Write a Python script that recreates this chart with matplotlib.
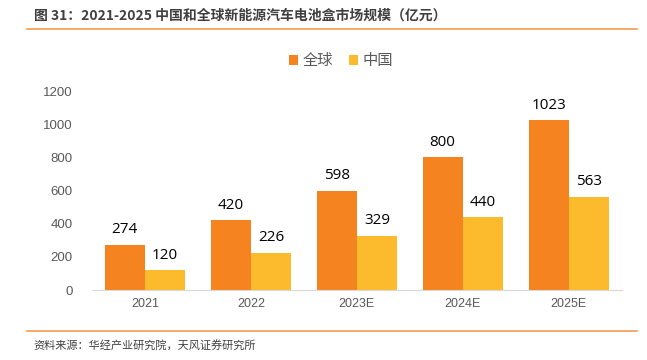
import numpy as np
import matplotlib.pyplot as plt
from matplotlib.lines import Line2D

plt.rcParams['font.family'] = ['Noto Sans CJK SC', 'DejaVu Sans']

years = ['2021', '2022', '2023E', '2024E', '2025E']
global_vals = [274, 420, 598, 800, 1023]
china_vals = [120, 226, 329, 440, 563]

orange = '#F5831F'
yellow = '#FBBB2D'
line_c = '#F79B4B'

fig = plt.figure(figsize=(6.47, 3.6), dpi=100)
ax = fig.add_axes([0.142, 0.194, 0.819, 0.553])

x = np.arange(len(years))
w = 0.38
b1 = ax.bar(x - w / 2, global_vals, w, color=orange, label='全球')
b2 = ax.bar(x + w / 2, china_vals, w, color=yellow, label='中国')
for bars in (b1, b2):
    for r in bars:
        ax.text(r.get_x() + r.get_width() / 2, r.get_height() + 45, f'{int(r.get_height())}',
                ha='center', va='bottom', fontsize=11, color='black', family='Open Sans')

ax.set_xlim(-0.5, len(years) - 0.5)
ax.set_ylim(0, 1200)
ax.set_yticks(range(0, 1201, 200))
ax.set_xticks(x)
ax.set_xticklabels(years)
ax.tick_params(axis='both', length=0, labelsize=9.5, colors='#595959')
ax.tick_params(axis='x', labelsize=9)
ax.tick_params(axis='y', pad=14)
ax.tick_params(axis='x', pad=6)
for lab in ax.get_xticklabels() + ax.get_yticklabels():
    lab.set_family('Liberation Sans')
for s in ['top', 'right', 'left']:
    ax.spines[s].set_visible(False)
ax.spines['bottom'].set_color('#D9D9D9')

leg = ax.legend(loc='lower center', bbox_to_anchor=(0.47, 1.04), ncol=2, frameon=False,
                fontsize=11, handlelength=0.6, handleheight=0.6, handletextpad=0.3,
                columnspacing=1.0)
for t in leg.get_texts():
    t.set_color('#595959')

fig.text(0.052, 0.958, '图 31：2021-2025 中国和全球新能源汽车电池盒市场规模（亿元）',
         fontsize=10, fontweight='bold', color='#404040', va='center')
fig.add_artist(Line2D([0.042, 0.985], [0.919, 0.919], color=line_c, lw=1.2))
fig.add_artist(Line2D([0.042, 0.985], [0.081, 0.081], color=line_c, lw=1.2))
fig.text(0.052, 0.04, '资料来源：华经产业研究院，天风证券研究所',
         fontsize=8, color='#404040', va='center')

fig.savefig('out.png', dpi=100)
